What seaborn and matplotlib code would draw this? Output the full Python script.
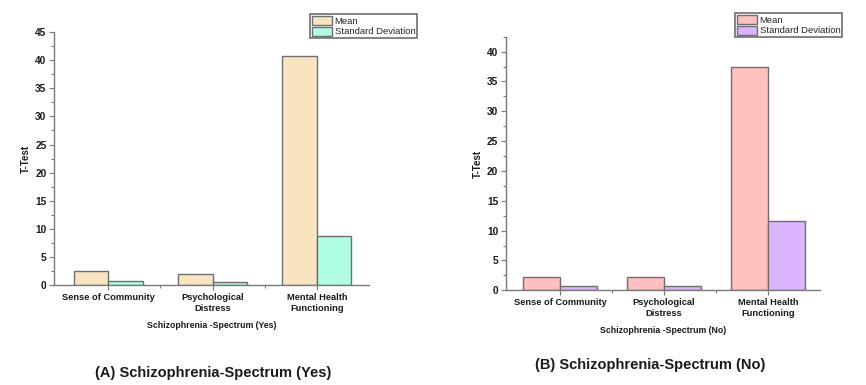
import matplotlib
matplotlib.use("Agg")
import matplotlib.pyplot as plt
import seaborn as sns
import pandas as pd
from matplotlib.ticker import MultipleLocator, FixedLocator
from matplotlib.patches import Patch

sns.set_style("white")
plt.rcParams['font.family'] = ['Liberation Sans', 'DejaVu Sans']

categories = ["Sense of Community", "Psychological\nDistress", "Mental Health\nFunctioning"]
series = ["Mean", "Standard Deviation"]
yes_mean = [2.54, 2.0, 40.7]
yes_sd = [0.76, 0.53, 8.8]
no_mean = [2.28, 2.18, 37.4]
no_sd = [0.72, 0.67, 11.57]

def make_df(mean, sd):
    return pd.DataFrame({
        "Category": categories * 2,
        "Stat": [series[0]] * 3 + [series[1]] * 3,
        "Value": list(mean) + list(sd),
    })

fig = plt.figure(figsize=(8.66, 3.85), dpi=100)
ax1 = fig.add_axes([0.0624, 0.259, 0.3637, 0.658])
ax2 = fig.add_axes([0.5843, 0.246, 0.3626, 0.6587])

edge = "#6e6e6e"
spine_c = "#7a7a7a"

def style(ax, df, colors, width, ymax, xlabel, caption, cap_y, cap_x, leg_bbox):
    sns.barplot(data=df, x="Category", y="Value", hue="Stat", palette=colors,
                width=width, edgecolor=edge, linewidth=1.0, saturation=1,
                ax=ax, legend=False)
    ax.set_xlim(-0.52, 2.5)
    ax.set_ylim(0, ymax)
    for s in ["top", "right"]:
        ax.spines[s].set_visible(False)
    for s in ["left", "bottom"]:
        ax.spines[s].set_color(spine_c)
        ax.spines[s].set_linewidth(1.0)
    ax.yaxis.set_major_locator(MultipleLocator(5))
    ax.yaxis.set_minor_locator(MultipleLocator(2.5))
    ax.xaxis.set_minor_locator(FixedLocator([0.5, 1.5]))
    ax.tick_params(axis="both", which="both", direction="out", color=spine_c,
                   bottom=True, left=True, width=0.8,
                   labelcolor="#1a1a1a", pad=2)
    ax.tick_params(axis="x", labelsize=6.7)
    ax.tick_params(axis="y", labelsize=7.3)
    ax.tick_params(axis="both", which="major", length=3.5)
    ax.tick_params(axis="both", which="minor", length=2)
    ax.tick_params(axis="x", which="major", pad=2)
    for lab in ax.get_xticklabels() + ax.get_yticklabels():
        lab.set_fontweight("bold")
        lab.set_linespacing(1.25)
    ax.set_ylabel("T-Test", fontsize=7, fontweight="bold", color="#1a1a1a", labelpad=3)
    ax.set_xlabel(xlabel, fontsize=6.3, fontweight="bold", color="#1a1a1a", labelpad=6)
    fig.text(cap_x, cap_y, caption, ha="center", va="center", fontsize=10.5,
             fontweight="bold", color="#1a1a1a")
    handles = [Patch(facecolor=colors[0], edgecolor=edge, linewidth=1.0),
               Patch(facecolor=colors[1], edgecolor=edge, linewidth=1.0)]
    leg = fig.legend(handles, series, loc="upper left", bbox_to_anchor=leg_bbox,
                     frameon=True, fancybox=False, fontsize=6.8, handlelength=2.1,
                     handleheight=1.1, handletextpad=0.3, borderpad=0.2,
                     labelspacing=0.1, borderaxespad=0, edgecolor="#6e6e6e",
                     framealpha=1)
    leg.get_frame().set_linewidth(1.2)

style(ax1, make_df(yes_mean, yes_sd), ["#F9E4C0", "#AFFDE2"], 0.66, 45,
      "Schizophrenia -Spectrum (Yes)", "(A) Schizophrenia-Spectrum (Yes)",
      1 - 372.7 / 385, 213 / 866, (310 / 866, 1 - 14 / 385))
style(ax2, make_df(no_mean, no_sd), ["#FFC0C0", "#DAB4FF"], 0.71, 42.5,
      "Schizophrenia -Spectrum (No)", "(B) Schizophrenia-Spectrum (No)",
      1 - 365 / 385, 650 / 866, (735 / 866, 1 - 13 / 385))

fig.savefig("out.png", dpi=100)
